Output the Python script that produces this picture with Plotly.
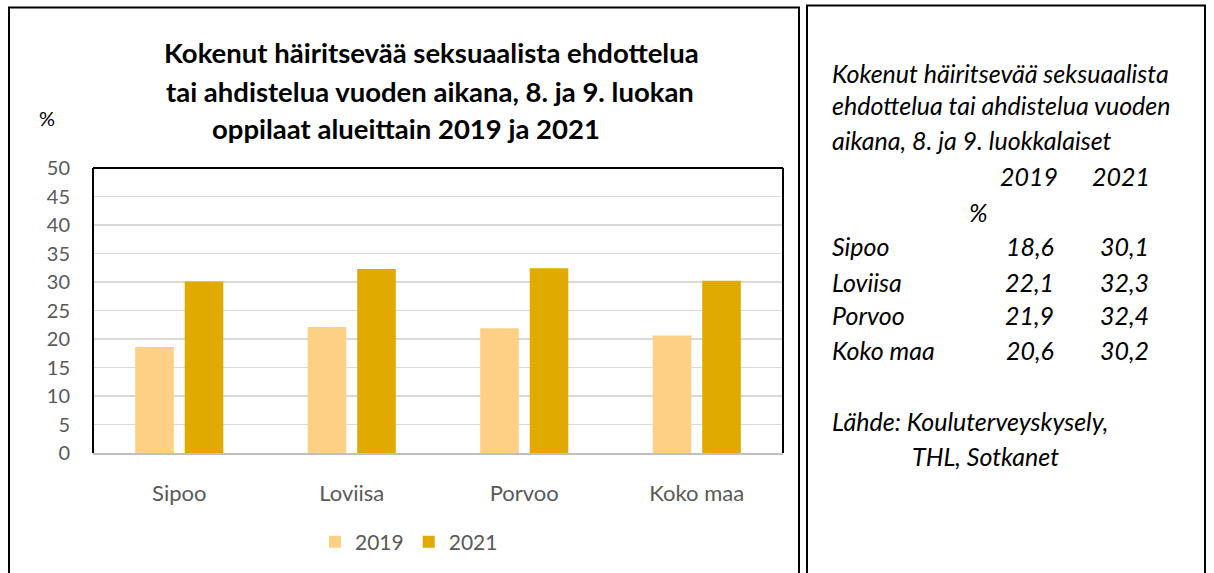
import plotly.graph_objects as go

categories = ["Sipoo", "Loviisa", "Porvoo", "Koko maa"]
values_2019 = [18.6, 22.1, 21.9, 20.6]
values_2021 = [30.1, 32.3, 32.4, 30.2]
series_names = ["2019", "2021"]
y_ticks = [0, 5, 10, 15, 20, 25, 30, 35, 40, 45, 50]

title_lines = [
    "Kokenut häiritsevää seksuaalista ehdottelua",
    "tai ahdistelua vuoden aikana, 8. ja 9. luokan",
    "oppilaat alueittain 2019 ja 2021",
]
side_title = [
    "Kokenut häiritsevää seksuaalista",
    "ehdottelua tai ahdistelua vuoden",
    "aikana, 8. ja 9. luokkalaiset",
]
source_lines = ["Lähde: Kouluterveyskysely,", "THL, Sotkanet"]

W, H = 1214, 573
L, R_px, T, B_px = 93, 783, 168, 454  # plot area in pixels
PW, PH = R_px - L, B_px - T


def X(px):
    return (px - L) / PW


def Y(py):
    return (B_px - py) / PH


FONT = "Lato"
GRAY = "#595959"
C19 = "#FDD086"
C21 = "#E1AA00"

fig = go.Figure()
fig.add_trace(go.Bar(x=categories, y=values_2019, name=series_names[0],
                     marker=dict(color=C19, line=dict(width=0))))
fig.add_trace(go.Bar(x=categories, y=values_2021, name=series_names[1],
                     marker=dict(color=C21, line=dict(width=0))))

shapes = []
shapes.append(dict(type="rect", xref="paper", yref="paper", x0=X(9), x1=X(799), y0=Y(7), y1=Y(620),
                   line=dict(color="black", width=2), fillcolor="rgba(0,0,0,0)", layer="below"))
shapes.append(dict(type="rect", xref="paper", yref="paper", x0=X(807), x1=X(1205), y0=Y(5), y1=Y(620),
                   line=dict(color="black", width=2), fillcolor="rgba(0,0,0,0)", layer="below"))
for (x0, y0, x1, y1) in [(0, 0, 0, 1), (0, 1, 1, 1), (1, 0, 1, 1)]:
    shapes.append(dict(type="line", xref="paper", yref="paper", x0=x0, y0=y0, x1=x1, y1=y1,
                       line=dict(color="black", width=2)))

annotations = []
title_pos = [(431, 52), (430, 91), (406, 128)]
for txt, (cx, cy) in zip(title_lines, title_pos):
    annotations.append(dict(text="<b>" + txt + "</b>", x=X(cx), y=Y(cy), xref="paper", yref="paper",
                            xanchor="center", yanchor="middle", showarrow=False,
                            font=dict(family=FONT, size=27.5, color="black")))
annotations.append(dict(text="%", x=X(47), y=Y(118), xref="paper", yref="paper", xanchor="center",
                        yanchor="middle", showarrow=False, font=dict(family=FONT, size=20, color="black")))

side_font = dict(family=FONT, size=25, color="black")


def side_text(txt, px, py, anchor="left"):
    annotations.append(dict(text="<i>" + txt + "</i>", x=X(px), y=Y(py), xref="paper", yref="paper",
                            xanchor=anchor, yanchor="middle", showarrow=False, font=side_font))


for i, line in enumerate(side_title):
    side_text(line, 830, [73, 105, 140][i])
side_text(series_names[0], 1060, 176, "right")
side_text(series_names[1], 1152, 176, "right")
side_text("%", 978, 212, "center")
row_y = [246, 282, 316, 351]
for cat, v1, v2, ry in zip(categories, values_2019, values_2021, row_y):
    side_text(cat, 830, ry)
    side_text(f"{v1:.1f}".replace(".", ","), 1056, ry, "right")
    side_text(f"{v2:.1f}".replace(".", ","), 1151, ry, "right")
side_text(source_lines[0], 830, 422)
side_text(source_lines[1], 910, 457)

fig.update_layout(
    width=W, height=H,
    margin=dict(l=L, r=W - R_px, t=T, b=H - B_px, pad=0),
    paper_bgcolor="white", plot_bgcolor="white",
    barmode="group", bargap=0.426, bargroupgap=0.22,
    showlegend=True,
    legend=dict(orientation="h", x=X(409), y=Y(542), xanchor="center", yanchor="middle",
                font=dict(family=FONT, size=21, color=GRAY), bgcolor="rgba(0,0,0,0)",
                itemclick=False),
    shapes=shapes,
    annotations=annotations,
    hovermode=False,
    font=dict(family=FONT, color=GRAY),
)
fig.update_yaxes(range=[0, 50], tickvals=y_ticks, showgrid=True, gridcolor="#D9D9D9", gridwidth=1.5,
                 zeroline=False, showline=False, ticks="", tickfont=dict(family=FONT, size=20, color=GRAY),
                 ticklabelstandoff=22, fixedrange=True)
fig.update_xaxes(showline=True, linecolor="#BFBFBF", linewidth=2, ticks="", showgrid=False,
                 tickfont=dict(family=FONT, size=22, color=GRAY), ticklabelstandoff=20, fixedrange=True)

fig.write_html("out.html", config={"displayModeBar": False, "staticPlot": True},
               post_script="document.body.style.margin='0px';document.body.style.overflow='hidden';")
